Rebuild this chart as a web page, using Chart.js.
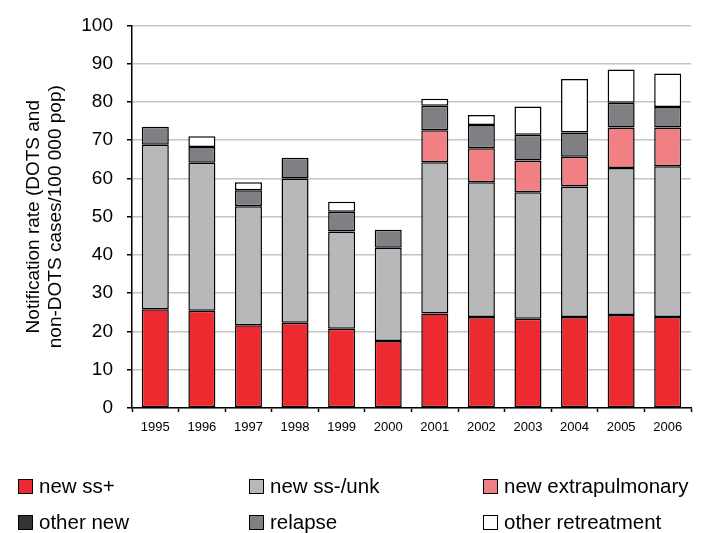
<!DOCTYPE html>
<html>
<head>
<meta charset="utf-8">
<script src="https://cdn.jsdelivr.net/npm/chart.js@4.4.0/dist/chart.umd.min.js"></script>
<style>
  body { margin: 0; background: #fff; font-family: "Liberation Sans", Arial, sans-serif; }
  #wrap { position: relative; width: 703px; height: 533px; }
  #box { position: absolute; left: 0; top: 0; width: 703px; height: 460px; }
  #legend { position: absolute; left: 0; top: 0; width: 703px; height: 533px; }
  .item { position: absolute; display: flex; align-items: center; height: 24px; font-size: 20.5px; color: #000; white-space: nowrap; }
  .swatch { width: 15px; height: 15px; border: 1.5px solid #000; box-sizing: border-box; margin-right: 6px; }
</style>
</head>
<body>
<div id="wrap">
  <div id="box"><canvas id="chart"></canvas></div>
  <div id="legend"></div>
</div>
<script>
// años y series (tasa de notificación por 100 000 hab.)
const years = ["1995", "1996", "1997", "1998", "1999", "2000", "2001", "2002", "2003", "2004", "2005", "2006"];
const newSsPos = [25.8, 25.4, 21.6, 22.3, 20.7, 17.5, 24.7, 23.8, 23.3, 23.8, 24.3, 23.8];
const newSsNeg = [43.0, 38.7, 31.1, 37.7, 25.4, 24.4, 39.5, 35.2, 33.1, 34.1, 38.4, 39.4];
const newExtra = [0, 0, 0, 0, 0, 0, 8.4, 8.9, 8.3, 7.8, 10.6, 10.1];
const otherNew = [0, 0, 0, 0, 0, 0, 0, 0, 0, 0, 0, 0];
const relapse = [4.7, 4.1, 4.2, 5.4, 5.2, 4.7, 6.4, 6.1, 6.7, 6.3, 6.5, 5.4];
const otherRetreat = [0, 2.8, 2.1, 0, 2.6, 0, 1.8, 2.6, 7.4, 14.0, 8.7, 8.7];
const yTicks = [0, 10, 20, 30, 40, 50, 60, 70, 80, 90, 100];

const seriesNames = ["new ss+", "new ss-/unk", "new extrapulmonary", "other new", "relapse", "other retreatment"];
const seriesData = [newSsPos, newSsNeg, newExtra, otherNew, relapse, otherRetreat];
const seriesColors = ["#ec2a2f", "#b7b8ba", "#f08084", "#333333", "#808084", "#ffffff"];

// los ceros se pasan como null para que no dibujen un borde suelto
const datasets = seriesNames.map((name, i) => ({
    label: name,
    data: seriesData[i].map(v => (v === 0 ? null : v)),
    backgroundColor: seriesColors[i],
    borderColor: "#000",
    borderWidth: 1.5,
    borderSkipped: false,
    barPercentage: 0.58,
    categoryPercentage: 1.0
}));

new Chart(document.getElementById("chart"), {
    type: "bar",
    data: { labels: years, datasets },
    options: {
        responsive: true,
        maintainAspectRatio: false,
        animation: false,
        layout: { padding: { top: 22, right: 12, left: 0, bottom: 0 } },
        plugins: { legend: { display: false }, tooltip: { enabled: false } },
        scales: {
            x: {
                stacked: true,
                afterFit: s => { s.height = 52; },
                grid: { drawOnChartArea: false, offset: true, tickLength: 4, tickColor: "#000", tickWidth: 1.5 },
                border: { color: "#000", width: 1.5 },
                ticks: { color: "#000", font: { size: 13, family: "Liberation Sans" }, padding: 8, maxRotation: 0, autoSkip: false }
            },
            y: {
                stacked: true,
                min: 0,
                max: 100,
                afterFit: s => { s.width = 132; },
                afterBuildTicks: s => { s.ticks = yTicks.map(v => ({ value: v })); },
                grid: { color: "#c4c4c4", lineWidth: 1.5, tickLength: 5, tickColor: "#000", tickWidth: 1.5 },
                border: { color: "#000", width: 1.5 },
                ticks: { color: "#000", font: { size: 19, family: "Liberation Sans" }, padding: 14 },
                title: {
                    display: true,
                    text: ["Notification rate (DOTS and", "non-DOTS cases/100 000 pop)"],
                    color: "#000",
                    font: { size: 19, family: "Liberation Sans" },
                    padding: { top: 22, bottom: 0 }
                }
            }
        }
    }
});

// leyenda en HTML: 3 columnas x 2 filas
const legendCols = [18, 249, 483];
const legendRows = [474, 510];
const legendEl = document.getElementById("legend");
seriesNames.forEach((name, i) => {
    const item = document.createElement("div");
    item.className = "item";
    item.style.left = legendCols[i % 3] + "px";
    item.style.top = legendRows[Math.floor(i / 3)] + "px";
    const sw = document.createElement("span");
    sw.className = "swatch";
    sw.style.background = seriesColors[i];
    item.appendChild(sw);
    item.appendChild(document.createTextNode(name));
    legendEl.appendChild(item);
});
</script>
</body>
</html>
